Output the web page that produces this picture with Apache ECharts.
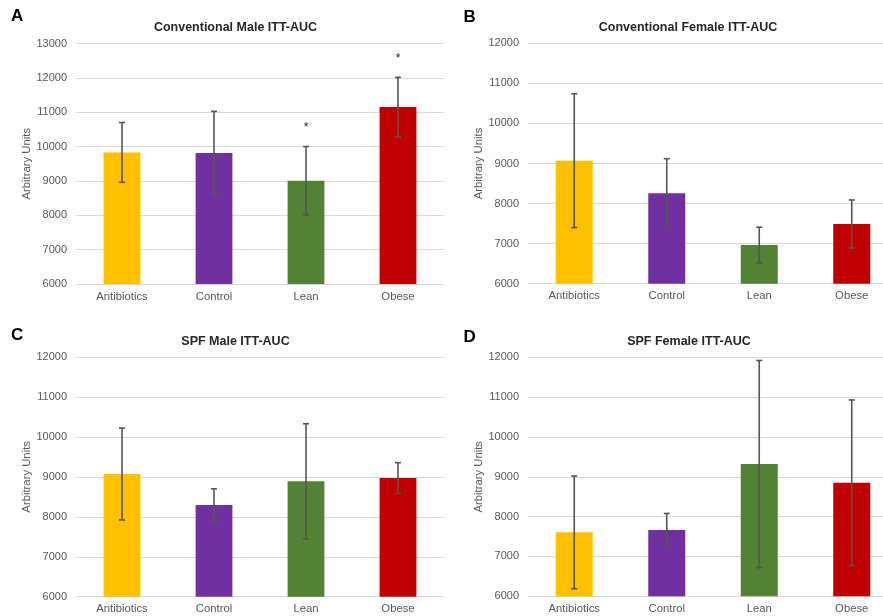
<!DOCTYPE html>
<html>
<head>
<meta charset="utf-8">
<script src="https://cdn.jsdelivr.net/npm/echarts@6/dist/echarts.min.js"></script>
<style>
html,body{margin:0;padding:0;background:#fff;overflow:hidden;}
#chart{width:883px;height:616px;}
</style>
</head>
<body>
<div id="chart"></div>
<script>
const categories = ['Antibiotics', 'Control', 'Lean', 'Obese'];
const panelTitles = ['Conventional Male ITT-AUC', 'Conventional Female ITT-AUC', 'SPF Male ITT-AUC', 'SPF Female ITT-AUC'];
const panelLetters = ['A', 'B', 'C', 'D'];
const axisName = 'Arbitrary Units';

const convMaleMean = [9830, 9810, 9005, 11150];
const convMaleSD = [870, 1215, 995, 865];
const convMaleStars = ['', '', '*', '*'];

const convFemaleMean = [9070, 8255, 6965, 7490];
const convFemaleSD = [1670, 865, 445, 600];
const convFemaleStars = ['', '', '', ''];

const spfMaleMean = [9070, 8295, 8890, 8970];
const spfMaleSD = [1150, 405, 1440, 385];
const spfMaleStars = ['', '', '', ''];

const spfFemaleMean = [7605, 7665, 9320, 8850];
const spfFemaleSD = [1415, 415, 2600, 2080];
const spfFemaleStars = ['', '', '', ''];

const yMin = [6000, 6000, 6000, 6000];
const yMax = [13000, 12000, 12000, 12000];
const yStep = 1000;

const barColors = ['#FFC000', '#7030A0', '#548235', '#C00000'];
const FONT = 'Liberation Sans, Arial, sans-serif';
const textGrey = '#595959';

const panels = [
  {mean: convMaleMean, sd: convMaleSD, stars: convMaleStars},
  {mean: convFemaleMean, sd: convFemaleSD, stars: convFemaleStars},
  {mean: spfMaleMean, sd: spfMaleSD, stars: spfMaleStars},
  {mean: spfFemaleMean, sd: spfFemaleSD, stars: spfFemaleStars}
];

const grids = [
  {left: 76, top: 43.5, width: 368, height: 240.5, outerBoundsMode: 'none'},
  {left: 528, top: 43.3, width: 370, height: 240.4, outerBoundsMode: 'none'},
  {left: 76, top: 357, width: 368, height: 239.7, outerBoundsMode: 'none'},
  {left: 528, top: 357.3, width: 370, height: 239, outerBoundsMode: 'none'}
];
const titlePos = [
  {x: 230.5, y: 16}, {x: 683, y: 16}, {x: 230.5, y: 330.5}, {x: 684, y: 330.5}
];
const letterPos = [
  {x: 11, y: 8}, {x: 463.5, y: 9}, {x: 11, y: 327}, {x: 463.5, y: 329}
];

const chart = echarts.init(document.getElementById('chart'), null, {renderer: 'canvas'});

const option = {
  backgroundColor: '#fff',
  animation: false,
  title: panelTitles.map((t, i) => ({
    text: t, left: titlePos[i].x, top: titlePos[i].y, textAlign: 'center',
    textStyle: {fontFamily: FONT, fontSize: 12.5, fontWeight: 'bold', color: '#262626'}
  })),
  graphic: panelLetters.map((l, i) => ({
    type: 'text', left: letterPos[i].x, top: letterPos[i].y,
    style: {text: l, font: 'bold 17px ' + FONT, fill: '#000'}
  })),
  grid: grids,
  xAxis: grids.map((g, i) => ({
    type: 'category', gridIndex: i, data: categories,
    axisLine: {show: true, lineStyle: {color: '#d9d9d9', width: 1}},
    axisTick: {show: false},
    axisLabel: {fontFamily: FONT, fontSize: 11.3, color: textGrey, margin: 7}
  })),
  yAxis: grids.map((g, i) => ({
    type: 'value', gridIndex: i, min: yMin[i], max: yMax[i], interval: yStep,
    name: axisName, nameLocation: 'middle', nameGap: 43, nameRotate: 90,
    nameTextStyle: {fontFamily: FONT, fontSize: 11.3, color: textGrey},
    axisLine: {show: false}, axisTick: {show: false},
    axisLabel: {fontFamily: FONT, fontSize: 11, color: textGrey, margin: 9,
      formatter: function (v) { return String(v); }},
    splitLine: {lineStyle: {color: '#d9d9d9', width: 1}}
  })),
  series: []
};

panels.forEach((p, i) => {
  option.series.push({
    type: 'bar', xAxisIndex: i, yAxisIndex: i, barWidth: '40%',
    data: p.mean.map((v, k) => ({value: v, itemStyle: {color: barColors[k]}}))
  });
  option.series.push({
    type: 'custom', xAxisIndex: i, yAxisIndex: i, z: 10,
    data: p.mean.map((v, k) => [k, v, p.sd[k]]),
    renderItem: function (params, api) {
      const x = api.value(0), m = api.value(1), s = api.value(2);
      const top = api.coord([x, m + s]);
      const bot = api.coord([x, m - s]);
      const cap = 3;
      const st = {stroke: '#555555', lineWidth: 1.6};
      const children = [
        {type: 'line', shape: {x1: top[0], y1: top[1], x2: bot[0], y2: bot[1]}, style: st},
        {type: 'line', shape: {x1: top[0] - cap, y1: top[1], x2: top[0] + cap, y2: top[1]}, style: st},
        {type: 'line', shape: {x1: bot[0] - cap, y1: bot[1], x2: bot[0] + cap, y2: bot[1]}, style: st}
      ];
      const star = p.stars[params.dataIndex];
      if (star) {
        children.push({type: 'text', x: top[0], y: top[1] - 19,
          style: {text: star, font: '12px ' + FONT, fill: '#262626', align: 'center', verticalAlign: 'middle'}});
      }
      return {type: 'group', children: children};
    }
  });
});

chart.setOption(option);
</script>
</body>
</html>
